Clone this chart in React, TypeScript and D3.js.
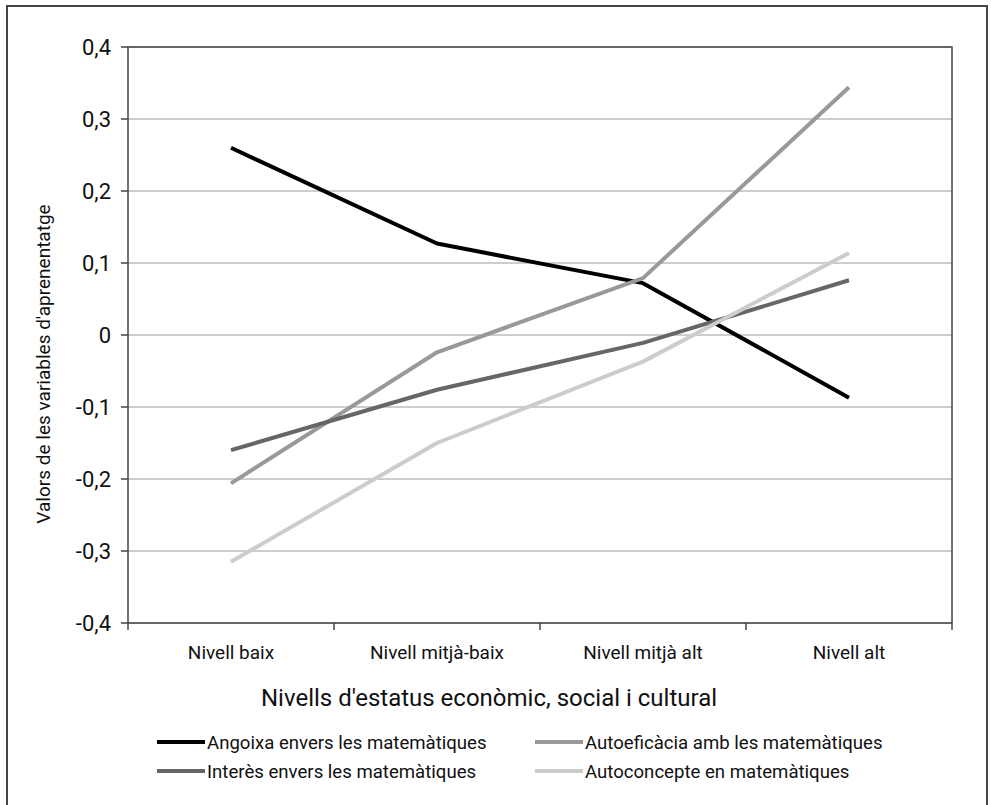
import React from "react";
import * as d3 from "d3";

const categories = ["Nivell baix", "Nivell mitjà-baix", "Nivell mitjà alt", "Nivell alt"];
const angoixa = [0.26, 0.127, 0.072, -0.087];
const autoeficacia = [-0.206, -0.024, 0.079, 0.344];
const interes = [-0.16, -0.076, -0.011, 0.076];
const autoconcepte = [-0.315, -0.15, -0.037, 0.114];
const yTicks = [-0.4, -0.3, -0.2, -0.1, 0, 0.1, 0.2, 0.3, 0.4];

const series = [
  { name: "Angoixa envers les matemàtiques", values: angoixa, color: "#000000" },
  { name: "Autoeficàcia amb les matemàtiques", values: autoeficacia, color: "#999999" },
  { name: "Interès envers les matemàtiques", values: interes, color: "#666666" },
  { name: "Autoconcepte en matemàtiques", values: autoconcepte, color: "#cccccc" },
];

const FONT = "Roboto, 'Noto Sans', sans-serif";

export default function App() {
  const W = 991, H = 805;
  const left = 128, right = 952, top = 47, bottom = 623;
  const x = d3.scaleBand<string>().domain(categories).range([left, right]);
  const y = d3.scaleLinear().domain([-0.4, 0.4]).range([bottom, top]);
  const fmt = (v: number) => (Math.abs(v) < 1e-9 ? "0" : d3.format(".1f")(v).replace(".", ",").replace("\u2212", "-"));
  const line = d3.line<number>()
    .x((_, i) => (x(categories[i]) as number) + x.bandwidth() / 2)
    .y((d) => y(d));
  const ticksX = [...categories.map((c) => x(c) as number), right];
  const legendPos = [
    { lx: 157, ly: 742 },
    { lx: 535, ly: 742 },
    { lx: 157, ly: 771 },
    { lx: 535, ly: 771 },
  ];
  return (
    <svg width={W} height={H} style={{ position: "absolute", left: 0, top: 0, background: "#fff" }} fontFamily={FONT}>
      <rect x={7} y={6} width={980} height={820} fill="#fff" stroke="#444" strokeWidth={2} />
      {yTicks.map((t) => (
        <g key={t}>
          <line x1={left} x2={right} y1={y(t)} y2={y(t)} stroke="#bdbdbd" strokeWidth={1.5} />
          <line x1={left - 7} x2={left} y1={y(t)} y2={y(t)} stroke="#444" strokeWidth={1.5} />
          <text x={111} y={y(t)} dy="0.36em" textAnchor="end" fontSize={22} fill="#111">{fmt(t)}</text>
        </g>
      ))}
      <rect x={left} y={top} width={right - left} height={bottom - top} fill="none" stroke="#444" strokeWidth={1.5} />
      {ticksX.map((tx, i) => (
        <line key={i} x1={tx} x2={tx} y1={bottom} y2={bottom + 7} stroke="#444" strokeWidth={1.5} />
      ))}
      {categories.map((c) => (
        <text key={c} x={(x(c) as number) + x.bandwidth() / 2} y={659} textAnchor="middle" fontSize={19} fill="#111">{c}</text>
      ))}
      {series.map((s) => (
        <path key={s.name} d={line(s.values) || ""} fill="none" stroke={s.color} strokeWidth={4} strokeLinejoin="round" />
      ))}
      <text x={489} y={706} textAnchor="middle" fontSize={24} fill="#111">Nivells d'estatus econòmic, social i cultural</text>
      <text transform={`translate(50, 364) rotate(-90)`} textAnchor="middle" fontSize={19} fill="#111">Valors de les variables d'aprenentatge</text>
      {series.map((s, i) => (
        <g key={s.name}>
          <line x1={legendPos[i].lx} x2={legendPos[i].lx + 48} y1={legendPos[i].ly} y2={legendPos[i].ly} stroke={s.color} strokeWidth={4} />
          <text x={legendPos[i].lx + 50} y={legendPos[i].ly} dy="0.36em" fontSize={18.6} fill="#111">{s.name}</text>
        </g>
      ))}
    </svg>
  );
}
